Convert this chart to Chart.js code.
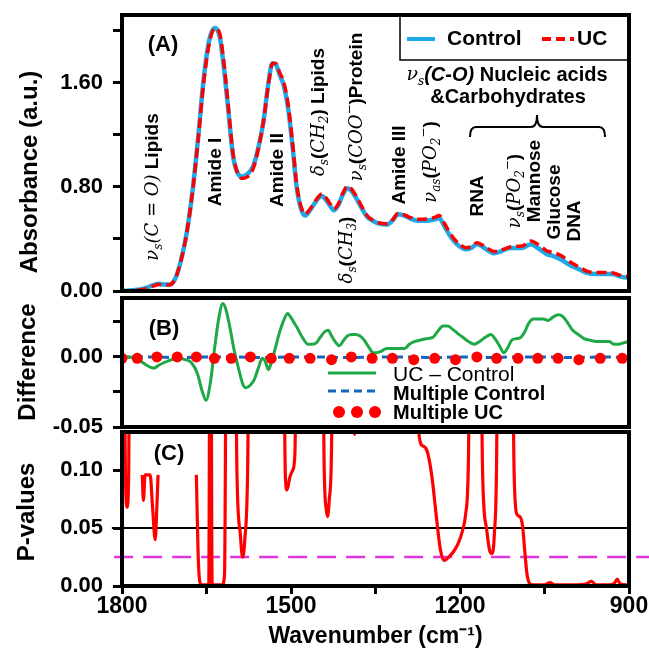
<!DOCTYPE html>
<html lang="en">
<head>
<meta charset="utf-8">
<title>FTIR spectra - Control vs UC</title>
<style>
  body { margin: 0; background: #fff; }
  #wrap { position: relative; width: 649px; height: 656px; }
  #wrap canvas { position: absolute; left: 0; }
</style>
</head>
<body>
<div id="wrap">
  <canvas id="panelA" width="649" height="305" style="top:0px"></canvas>
  <canvas id="panelB" width="649" height="155" style="top:285px"></canvas>
  <canvas id="panelC" width="649" height="236" style="top:420px"></canvas>
</div>

<script src="https://cdn.jsdelivr.net/npm/chart.js@4.4.0/dist/chart.umd.min.js"></script>
<script>
// ---- data ----
// (A) absorbance spectra
var wnA = [1800,1780,1760,1745,1735,1725,1715,1705,1695,1685,1675,1665,1655,1645,1635,1627,1620,1612,1603,1595,
  1587,1577,1567,1558,1549,1540,1533,1527,1520,1513,1505,1497,1490,1482,1475,1468,1460,1452,1445,1438,
  1430,1424,1416,1408,1400,1393,1385,1375,1365,1355,1345,1330,1320,1310,1300,1290,1275,1260,1245,1237,
  1228,1220,1210,1200,1190,1180,1170,1160,1150,1140,1130,1120,1110,1100,1090,1080,1074,1065,1055,1045,
  1035,1020,1005,990,975,960,945,930,915,900];
var control = [0.000,0.005,0.020,0.045,0.055,0.050,0.050,0.100,0.240,0.450,0.760,1.170,1.630,1.930,2.020,1.960,1.750,1.420,1.040,0.910,
  0.880,0.900,0.960,1.100,1.300,1.600,1.750,1.740,1.660,1.580,1.400,1.100,0.800,0.630,0.580,0.610,0.660,0.710,0.730,0.700,
  0.650,0.620,0.660,0.740,0.790,0.770,0.720,0.640,0.570,0.540,0.520,0.510,0.540,0.590,0.580,0.560,0.540,0.540,0.550,0.560,
  0.500,0.440,0.380,0.340,0.320,0.330,0.360,0.340,0.310,0.290,0.300,0.320,0.330,0.330,0.330,0.350,0.360,0.340,0.310,0.280,
  0.270,0.240,0.200,0.170,0.140,0.130,0.130,0.130,0.110,0.100];
var ucAbs = [0.000,0.005,0.014,0.037,0.049,0.046,0.048,0.099,0.239,0.448,0.755,1.155,1.602,1.905,2.017,1.985,1.788,1.452,1.058,0.908,
  0.865,0.878,0.942,1.092,1.300,1.590,1.747,1.748,1.676,1.606,1.430,1.127,0.821,0.645,0.591,0.619,0.669,0.721,0.745,0.718,
  0.666,0.632,0.668,0.751,0.805,0.786,0.735,0.654,0.580,0.544,0.524,0.516,0.546,0.596,0.586,0.568,0.551,0.553,0.565,0.579,
  0.522,0.461,0.399,0.356,0.333,0.340,0.370,0.352,0.325,0.304,0.309,0.324,0.340,0.343,0.345,0.372,0.385,0.367,0.337,0.306,
  0.297,0.270,0.224,0.188,0.153,0.142,0.142,0.140,0.120,0.111];

// (B) difference spectra
var wnDiff = [1800,1795,1773,1760,1743,1735,1725,1712,1699,1688,1677,1666,1658,1651,1643,1636,1628,1621,1615,1608,
  1600,1592,1585,1580,1572,1565,1558,1551,1546,1540,1535,1528,1520,1512,1506,1500,1494,1488,1480,1470,
  1462,1455,1448,1440,1434,1428,1420,1414,1408,1400,1392,1385,1378,1370,1362,1354,1348,1340,1330,1320,
  1308,1298,1290,1280,1270,1260,1248,1240,1230,1222,1214,1205,1195,1185,1175,1165,1155,1145,1138,1130,
  1122,1116,1108,1100,1092,1085,1078,1070,1062,1052,1044,1036,1026,1018,1010,1000,990,980,970,958,
  945,935,927,918,910,900];
var ucMinusControl = [0,0,-0.001,-0.005,-0.008,-0.006,-0.004,-0.002,-0.001,-0.002,-0.004,-0.012,-0.024,-0.031,-0.018,0.005,0.028,0.038,0.033,0.020,
  0.003,-0.010,-0.020,-0.022,-0.020,-0.016,-0.008,-0.001,-0.003,-0.009,-0.004,0.006,0.018,0.027,0.031,0.028,0.024,0.020,0.014,0.009,
  0.009,0.010,0.014,0.018,0.019,0.015,0.010,0.008,0.011,0.015,0.016,0.016,0.015,0.012,0.007,0.003,0.003,0.004,0.006,0.006,
  0.006,0.006,0.009,0.011,0.012,0.013,0.014,0.018,0.022,0.022,0.020,0.017,0.014,0.011,0.009,0.011,0.014,0.016,0.013,0.008,
  0.003,0.006,0.012,0.013,0.014,0.018,0.024,0.027,0.027,0.027,0.026,0.028,0.030,0.029,0.025,0.019,0.016,0.013,0.012,0.011,
  0.011,0.011,0.009,0.009,0.010,0.011];
var wnMultControl = [1800,1750,1700,1650,1600,1550,1500,1450,1400,1350,1300,1250,1200,1150,1100,1050,1000,950,900];
var multControl = [0,0,-0.0005,0,0,-0.0005,0,0,-0.0005,0,0,-0.0005,0,-0.0005,0,0,-0.0005,0,-0.0005];
var wnMultUC = [1800,1773,1738,1702,1668,1636,1606,1572,1535,1503,1466,1428,1393,1356,1320,1282,1245,1208,1170,1135,
  1097,1062,1026,989,951,912];
var multUC = [-0.001,-0.001,0,0,0,-0.001,-0.001,0,-0.001,-0.001,-0.001,-0.002,0,-0.001,-0.001,-0.002,-0.001,-0.002,0,-0.001,
  -0.001,-0.001,-0.001,-0.002,-0.001,-0.001];

// (C) p-values (null = gap in the trace)
var wnP = [1799,1794,1791,1788,1785,1775,1764,1762,1759,1750,1746,1741,1738,1736,1700,1668,1665,1662,1658,1646,
  1643,1640,1622,1618,1613,1602,1596,1590,1586,1582,1577,1571,1516,1510,1507,1502,1497,1493,1488,1447,
  1441,1437,1435,1432,1428,1424,1391,1387,1383,1278,1273,1266,1258,1250,1242,1235,1228,1220,1211,1203,
  1196,1190,1185,1180,1166,1160,1153,1147,1143,1139,1135,1131,1110,1104,1099,1094,1089,1085,1081,1076,
  1070,1050,1040,1032,1000,975,967,958,935,925,921,916,900];
var pValues = [0.40,0.10,0.068,0.10,0.40,null,0.096,0.074,0.096,0.096,0.070,0.040,0.070,0.096,null,0.096,0.030,0.004,0.001,0.001,
  0.40,0.001,0.001,0.010,0.40,0.40,0.10,0.045,0.025,0.040,0.10,0.40,0.40,0.095,0.083,0.094,0.100,0.115,0.40,0.40,
  0.10,0.065,0.060,0.075,0.12,0.40,0.40,0.131,0.40,0.40,0.132,0.121,0.116,0.095,0.060,0.032,0.022,0.025,0.030,0.037,
  0.047,0.062,0.11,0.40,0.40,0.10,0.050,0.030,0.028,0.045,0.11,0.40,0.40,0.10,0.062,0.060,0.052,0.030,0.010,0.002,
  0.001,0.001,0.003,0.001,0.001,0.002,0.004,0.001,0.001,0.003,0.006,0.002,0.001];
var alpha = 0.05, alphaLineWn = [1818, 902];
var alphaCorr = 0.025, alphaCorrLineWn = [1814, 862];

var xTicks = [1800, 1500, 1200, 900];

// ---- helpers ----
var SANS = "'Liberation Sans', Arial, sans-serif";
var SERIF = "'DejaVu Serif', 'Liberation Serif', serif";
Chart.defaults.font.family = SANS;
Chart.defaults.color = '#000';

function pts(xs, ys) {
  return xs.map(function (x, i) { return { x: x, y: ys[i] }; });
}

function segFont(kind, size) {
  if (kind === 'n') return 'bold ' + size + 'px ' + SANS;
  if (kind === 'm') return 'italic ' + (size - 1) + 'px ' + SERIF;
  if (kind === 'mb') return 'bold italic ' + size + 'px ' + SANS;
  return 'italic ' + Math.round(size * 0.62) + 'px ' + SERIF;   // sub / sup
}

// draws a label built from segments, centred on (cx, cy)
function drawRich(ctx, segs, cx, cy, size, vertical) {
  ctx.save();
  ctx.translate(cx, cy);
  if (vertical) ctx.rotate(-Math.PI / 2);
  ctx.textBaseline = 'middle';
  ctx.textAlign = 'left';
  ctx.fillStyle = '#000';
  var w = 0;
  segs.forEach(function (s) { ctx.font = segFont(s[1], size); w += ctx.measureText(s[0]).width; });
  var x = -w / 2;
  segs.forEach(function (s) {
    ctx.font = segFont(s[1], size);
    var dy = s[1] === 'sub' ? size * 0.32 : (s[1] === 'sup' ? -size * 0.38 : 0);
    ctx.fillText(s[0], x, dy);
    x += ctx.measureText(s[0]).width;
  });
  ctx.restore();
}

function text(ctx, str, x, y, font, align, rot) {
  ctx.save();
  ctx.translate(x, y);
  if (rot) ctx.rotate(rot);
  ctx.font = font;
  ctx.fillStyle = '#000';
  ctx.textAlign = align || 'center';
  ctx.textBaseline = 'middle';
  ctx.fillText(str, 0, 0);
  ctx.restore();
}

function frame(chart) {
  var a = chart.chartArea, ctx = chart.ctx;
  ctx.save();
  ctx.lineWidth = 4;
  ctx.strokeStyle = '#000';
  ctx.strokeRect(a.left, a.top, a.right - a.left, a.bottom - a.top);
  ctx.restore();
}

function xScale(show) {
  return {
    type: 'linear', min: 900, max: 1800, reverse: true, display: show,
    border: { display: false },
    grid: { drawOnChartArea: false, tickLength: 8, tickWidth: 3, tickColor: '#000' },
    ticks: {
      stepSize: 150, autoSkip: false, maxRotation: 0, padding: 1,
      font: { size: 23, weight: 'bold', lineHeight: 1 },
      callback: function (v) { return xTicks.indexOf(v) >= 0 ? String(v) : ''; }
    },
    title: {
      display: show, text: 'Wavenumber (cm\u207B\u00B9)',
      font: { size: 23, weight: 'bold' }, padding: { top: 0, bottom: 6 }
    },
    afterFit: function (s) {
      if (!show) return;
      s.height = 70; s.paddingLeft = 0; s.paddingRight = 0;
    }
  };
}

function yScale(min, max, step, major) {
  return {
    min: min, max: max,
    border: { display: false },
    grid: { drawOnChartArea: false, tickLength: 9, tickWidth: 3, tickColor: '#000' },
    ticks: {
      stepSize: step, includeBounds: false, padding: 10,
      font: { size: 22, weight: 'bold' },
      callback: function (v) {
        var r = v / major;
        return Math.abs(r - Math.round(r)) < 1e-6 ? v.toFixed(2) : '';
      }
    },
    afterFit: function (s) { s.width = 122; s.paddingTop = 0; s.paddingBottom = 0; }
  };
}

function baseOptions(pad, yCfg, showX) {
  return {
    responsive: false, animation: false,
    layout: { padding: { left: 0, right: 20, top: pad[0], bottom: pad[1] } },
    plugins: { legend: { display: false }, tooltip: { enabled: false } },
    elements: { point: { radius: 0 }, line: { cubicInterpolationMode: 'monotone' } },
    scales: { x: xScale(showX), y: yCfg }
  };
}

// ---- panel A ----
var bandLabels = [
  { segs: [['\u03BD','m'],['s','sub'],['(C = O)','m'],[' Lipids','n']], x: 153, y: 187 },
  { segs: [['Amide I','n']], x: 216, y: 172 },
  { segs: [['Amide II','n']], x: 278, y: 170 },
  { segs: [['\u03B4','m'],['s','sub'],['(','n'],['CH','m'],['2','sub'],[') Lipids','n']], x: 319, y: 112 },
  { segs: [['\u03B4','m'],['s','sub'],['(','n'],['CH','m'],['3','sub'],[')','n']], x: 347, y: 250 },
  { segs: [['\u03BD','m'],['s','sub'],['(','n'],['COO','m'],['\u2212','sup'],[')Protein','n']], x: 357, y: 107 },
  { segs: [['Amide III','n']], x: 400, y: 165 },
  { segs: [['\u03BD','m'],['as','sub'],['(','n'],['PO','m'],['2','sub'],['\u2212','sup'],[')','n']], x: 431, y: 162 },
  { segs: [['RNA','n']], x: 478, y: 196 },
  { segs: [['\u03BD','m'],['s','sub'],['(','n'],['PO','m'],['2','sub'],['\u2212','sup'],[')','n']], x: 515, y: 191 },
  { segs: [['Mannose','n']], x: 535, y: 181 },
  { segs: [['Glucose','n']], x: 555, y: 202 },
  { segs: [['DNA','n']], x: 575, y: 221 }
];

new Chart(document.getElementById('panelA'), {
  type: 'line',
  data: {
    datasets: [
      { label: 'UC', data: pts(wnA, ucAbs), borderColor: '#FF0000', borderWidth: 3.5, borderDash: [10, 5] },
      { label: 'Control', data: pts(wnA, control), borderColor: '#1FA8E8', borderWidth: 4.5 }
    ]
  },
  options: baseOptions([15, 14], yScale(0, 2.12, 0.4, 0.8), false),
  plugins: [{
    id: 'decoA',
    afterDatasetsDraw: frame,
    afterDraw: function (chart) {
      var ctx = chart.ctx;
      text(ctx, 'Absorbance (a.u.)', 30, 172, 'bold 24px ' + SANS, 'center', -Math.PI / 2);
      text(ctx, '(A)', 163, 45, 'bold 22px ' + SANS);
      bandLabels.forEach(function (l) { drawRich(ctx, l.segs, l.x, l.y, 19, true); });
      drawRich(ctx, [['\u03BD','m'],['s','sub'],['(C-O)','mb'],[' Nucleic acids','n']], 507, 75, 20, false);
      text(ctx, '&Carbohydrates', 508, 97, 'bold 20px ' + SANS);
      // brace
      ctx.save();
      ctx.strokeStyle = '#000';
      ctx.lineWidth = 2;
      ctx.beginPath();
      ctx.moveTo(470, 137); ctx.quadraticCurveTo(470, 127, 476, 127);
      ctx.lineTo(531, 127); ctx.quadraticCurveTo(537, 127, 537, 115);
      ctx.quadraticCurveTo(537, 127, 543, 127);
      ctx.lineTo(599, 127); ctx.quadraticCurveTo(605, 127, 605, 137);
      ctx.stroke();
      // legend
      ctx.fillStyle = '#fff';
      ctx.fillRect(400, 15, 229, 45);
      ctx.lineWidth = 1.5;
      ctx.strokeRect(400, 15, 229, 45);
      ctx.lineWidth = 4;
      ctx.strokeStyle = '#1FA8E8';
      ctx.beginPath(); ctx.moveTo(407, 39); ctx.lineTo(435, 39); ctx.stroke();
      ctx.strokeStyle = '#FF0000';
      ctx.setLineDash([9, 5]);
      ctx.beginPath(); ctx.moveTo(542, 39); ctx.lineTo(574, 39); ctx.stroke();
      ctx.restore();
      text(ctx, 'Control', 447, 39, 'bold 21px ' + SANS, 'left');
      text(ctx, 'UC', 577, 39, 'bold 21px ' + SANS, 'left');
      frame(chart);
    }
  }]
});

// ---- panel B ----
new Chart(document.getElementById('panelB'), {
  type: 'line',
  data: {
    datasets: [
      { label: 'Multiple UC', data: pts(wnMultUC, multUC), showLine: false, pointRadius: 5.5,
        pointBackgroundColor: '#FF0000', pointBorderWidth: 0 },
      { label: 'UC \u2013 Control', data: pts(wnDiff, ucMinusControl), borderColor: '#1EA846', borderWidth: 3 },
      { label: 'Multiple Control', data: pts(wnMultControl, multControl), borderColor: '#1565C0',
        borderWidth: 3, borderDash: [8, 5] }
    ]
  },
  options: baseOptions([13, 13], yScale(-0.05, 0.042, 0.025, 0.05), false),
  plugins: [{
    id: 'decoB',
    afterDatasetsDraw: frame,
    afterDraw: function (chart) {
      var ctx = chart.ctx;
      text(ctx, 'Difference', 28, 77, 'bold 24px ' + SANS, 'center', -Math.PI / 2);
      text(ctx, '(B)', 164, 44, 'bold 22px ' + SANS);
      ctx.save();
      ctx.lineWidth = 3;
      ctx.strokeStyle = '#1EA846';
      ctx.beginPath(); ctx.moveTo(328, 88); ctx.lineTo(376, 88); ctx.stroke();
      ctx.strokeStyle = '#1565C0';
      ctx.setLineDash([8, 5]);
      ctx.beginPath(); ctx.moveTo(328, 106); ctx.lineTo(376, 106); ctx.stroke();
      ctx.setLineDash([]);
      ctx.fillStyle = '#FF0000';
      [339, 357, 375].forEach(function (x) {
        ctx.beginPath(); ctx.arc(x, 127, 6, 0, Math.PI * 2); ctx.fill();
      });
      ctx.restore();
      text(ctx, 'UC \u2013 Control', 393, 90, '21px ' + SANS, 'left');
      text(ctx, 'Multiple Control', 393, 109, 'bold 20px ' + SANS, 'left');
      text(ctx, 'Multiple UC', 393, 128, 'bold 20px ' + SANS, 'left');
    }
  }]
});

// ---- panel C ----
new Chart(document.getElementById('panelC'), {
  type: 'line',
  data: {
    datasets: [
      { label: 'P-values', data: pts(wnP, pValues), borderColor: '#FF0000', borderWidth: 3.2, spanGaps: false },
      { label: 'p = 0.05', data: pts(alphaLineWn, [alpha, alpha]), borderColor: '#000', borderWidth: 2,
        clip: false, cubicInterpolationMode: 'default', tension: 0 },
      { label: 'p = 0.025', data: pts(alphaCorrLineWn, [alphaCorr, alphaCorr]), borderColor: '#E036E0',
        borderWidth: 2.5, borderDash: [19, 10], clip: false, cubicInterpolationMode: 'default', tension: 0 }
    ]
  },
  options: baseOptions([12, 0], yScale(0, 0.133, 0.05, 0.05), true),
  plugins: [{
    id: 'decoC',
    afterDatasetsDraw: frame,
    afterDraw: function (chart) {
      var ctx = chart.ctx;
      text(ctx, 'P-values', 27, 92, 'bold 24px ' + SANS, 'center', -Math.PI / 2);
      text(ctx, '(C)', 169, 34, 'bold 22px ' + SANS);
    }
  }]
});
</script>
</body>
</html>
